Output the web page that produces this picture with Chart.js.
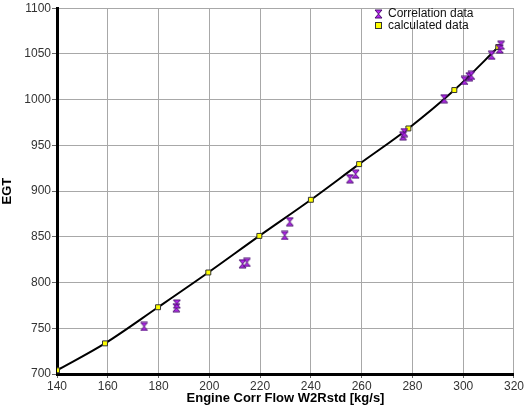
<!DOCTYPE html>
<html>
<head>
<meta charset="utf-8">
<script src="https://cdn.jsdelivr.net/npm/chart.js@4/dist/chart.umd.min.js"></script>
<style>
  body { margin: 0; background: #fff; }
  #wrap { width: 525px; height: 412px; }
</style>
</head>
<body>
<div id="wrap"><canvas id="egtChart"></canvas></div>
<script>
// Données
const corrFlow = [174.3, 187, 187.2, 213.1, 214.8, 229.7, 231.7, 255.4, 257.6, 276.3, 276.8, 292.5, 300.5, 302.4, 303.2, 311.2, 314.4, 314.9];
const corrEgt  = [752, 772.5, 776.5, 820.5, 822, 851.5, 866.5, 913.5, 918.5, 960.5, 964, 1001, 1021, 1025, 1026.5, 1048.5, 1055.5, 1059.5];
const calcFlow = [140, 158.9, 179.8, 199.6, 219.7, 240, 259, 278.4, 296.5, 313.8];
const calcEgt  = [704, 733.5, 773, 811, 851, 890.5, 929.5, 968.5, 1010.5, 1057.5];
const xTicks = [140, 160, 180, 200, 220, 240, 260, 280, 300, 320];
const yTicks = [700, 750, 800, 850, 900, 950, 1000, 1050, 1100];

// Marqueur "sablier" violet
function hourglass(w, h) {
    const c = document.createElement('canvas');
    c.width = w + 2; c.height = h + 2;
    const g = c.getContext('2d');
    g.beginPath();
    g.moveTo(1, 1); g.lineTo(w + 1, 1);
    g.lineTo(1, h + 1); g.lineTo(w + 1, h + 1);
    g.closePath();
    g.fillStyle = '#b624f0';
    g.fill();
    g.strokeStyle = '#4a1070';
    g.lineWidth = 1;
    g.stroke();
    return c;
}
const hgMark = hourglass(7, 8);

function xy(xs, ys) {
    return xs.map((x, i) => ({ x: x, y: ys[i] }));
}

// Légende dans la zone du graphique
const legendInside = {
    id: 'legendInside',
    afterDraw(chart) {
        const ctx = chart.ctx;
        ctx.save();
        ctx.drawImage(hgMark, 374, 9);
        ctx.fillStyle = '#ffff00';
        ctx.strokeStyle = '#333';
        ctx.lineWidth = 1;
        ctx.fillRect(375.5, 22.5, 6, 6);
        ctx.strokeRect(375.5, 22.5, 6, 6);
        ctx.fillStyle = '#111';
        ctx.font = '12px "Liberation Sans", Arial, sans-serif';
        ctx.textBaseline = 'middle';
        ctx.fillText('Correlation data', 388, 14);
        ctx.fillText('calculated data', 388, 26);
        ctx.restore();
    }
};

const ctx = document.getElementById('egtChart').getContext('2d');
new Chart(ctx, {
    type: 'scatter',
    data: {
        datasets: [{
            label: 'Correlation data',
            data: xy(corrFlow, corrEgt),
            pointStyle: hgMark,
            pointRadius: 4,
            showLine: false,
            order: 1
        }, {
            label: 'calculated data',
            data: xy(calcFlow, calcEgt),
            showLine: true,
            borderColor: '#000',
            borderWidth: 2,
            tension: 0.4,
            cubicInterpolationMode: 'monotone',
            pointStyle: 'rect',
            pointRadius: 3.5,
            pointBackgroundColor: '#ffff00',
            pointBorderColor: '#333',
            pointBorderWidth: 1,
            order: 2
        }]
    },
    options: {
        responsive: true,
        maintainAspectRatio: false,
        animation: false,
        layout: { padding: { left: 0, right: 7, top: 8, bottom: 6 } },
        plugins: {
            legend: { display: false },
            tooltip: { enabled: false }
        },
        scales: {
            x: {
                type: 'linear',
                min: 140,
                max: 320,
                afterBuildTicks: s => { s.ticks = xTicks.map(v => ({ value: v })); },
                afterFit: s => { s.height = 32; },
                grid: { color: '#a8a8a8', lineWidth: 1, tickLength: 4, tickColor: '#666' },
                border: { color: '#000', width: 3 },
                ticks: {
                    color: '#333',
                    padding: 1,
                    maxRotation: 0,
                    callback: v => String(v),
                    font: { family: '"Liberation Sans", Arial, sans-serif', size: 12 }
                },
                title: {
                    display: true,
                    text: 'Engine Corr Flow W2Rstd [kg/s]',
                    color: '#000',
                    padding: { top: 2, bottom: 0 },
                    font: { family: '"Liberation Sans", Arial, sans-serif', size: 13, weight: 'bold' }
                }
            },
            y: {
                min: 700,
                max: 1100,
                afterBuildTicks: s => { s.ticks = yTicks.map(v => ({ value: v })); },
                afterFit: s => { s.width = 57; },
                grid: { color: '#a8a8a8', lineWidth: 1, tickLength: 5, tickColor: '#666' },
                border: { color: '#000', width: 3 },
                ticks: {
                    color: '#333',
                    padding: 1,
                    callback: v => String(v),
                    font: { family: '"Liberation Sans", Arial, sans-serif', size: 12 }
                },
                title: {
                    display: true,
                    text: 'EGT',
                    color: '#000',
                    padding: { top: 0, bottom: 2 },
                    font: { family: '"Liberation Sans", Arial, sans-serif', size: 13, weight: 'bold' }
                }
            }
        }
    },
    plugins: [legendInside]
});
</script>
</body>
</html>
